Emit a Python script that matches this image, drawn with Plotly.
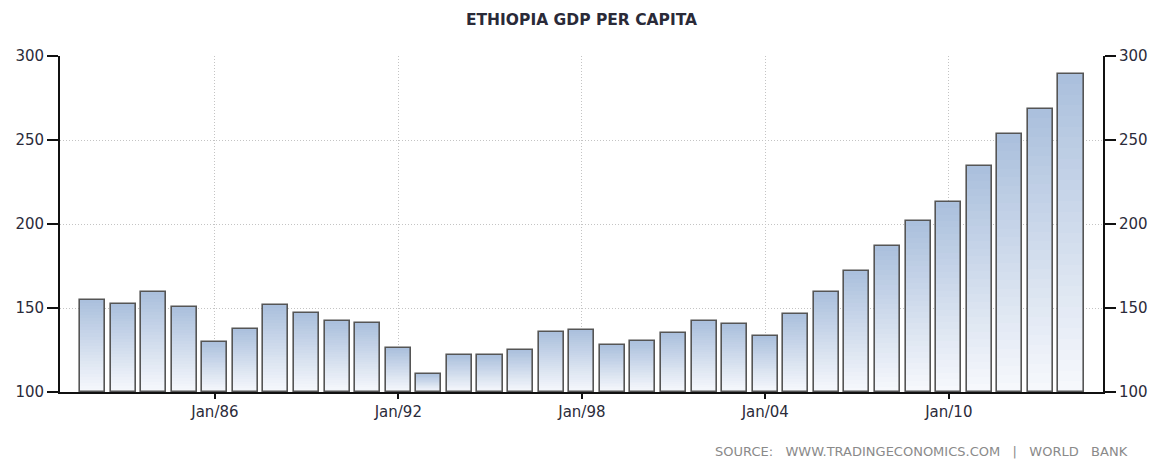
import plotly.graph_objects as go

years = list(range(1981, 2014))
gdp_per_capita = [155, 152.5, 159.5, 150.5, 130, 137.5, 151.5, 147, 142, 141,
                  126, 111, 122, 122, 125, 136, 137, 128, 130.5, 135,
                  142, 140.5, 133.5, 146.5, 159.5, 172, 187, 202, 213, 234.5,
                  253.5, 268.5, 289.5]
tick_dates = ["1986-01-01", "1992-01-01", "1998-01-01", "2004-01-01", "2010-01-01"]
tick_labels = ["Jan/86", "Jan/92", "Jan/98", "Jan/04", "Jan/10"]
y_ticks = [100, 150, 200, 250, 300]

x = [f"{y}-12-31" for y in years]
base_val = 100
bar_w = 0.82 * 365.25 * 86400000

top_rgb = (171, 192, 221)
bot_rgb = (246, 248, 252)
steps = 30

fig = go.Figure()
for k in range(steps):
    f = 1 - k / steps
    t = k / (steps - 1)
    c = tuple(round(top_rgb[i] + (bot_rgb[i] - top_rgb[i]) * t) for i in range(3))
    fig.add_trace(go.Bar(
        x=x, y=[(v - base_val) * f for v in gdp_per_capita], base=base_val,
        width=bar_w, marker=dict(color=f"rgb{c}", line=dict(width=0)),
        showlegend=False, hoverinfo="skip"))
fig.add_trace(go.Bar(
    x=x, y=[v - base_val for v in gdp_per_capita], base=base_val,
    width=bar_w, yaxis="y2",
    marker=dict(color="rgba(0,0,0,0)", line=dict(color="#555555", width=1.6)),
    showlegend=False, name="GDP per capita"))

tick_font = dict(family="DejaVu Sans", size=15, color="#2b2b3a")
grid = dict(showgrid=True, gridcolor="#c4c4c4", griddash="1px,2px", gridwidth=1)
fig.update_layout(
    width=1148, height=451,
    margin=dict(l=52, r=53, t=48, b=67, autoexpand=False),
    paper_bgcolor="white", plot_bgcolor="white",
    barmode="overlay", bargap=0,
    title=dict(text="<b>ETHIOPIA GDP PER CAPITA</b>", x=0.5, xanchor="center",
               y=1 - 12 / 451, yanchor="middle", xref="paper",
               font=dict(family="DejaVu Sans", size=15.5, color="#2a2a38")),
    xaxis=dict(type="date", range=["1980-12-08", "2015-01-17"],
               tickvals=tick_dates, ticktext=tick_labels, automargin=False,
               ticks="outside", ticklen=5, tickcolor="#111", tickwidth=1.5,
               showline=True, linecolor="#111", linewidth=1.5,
               tickfont=tick_font, zeroline=False, **grid),
    yaxis=dict(range=[100, 300], tickvals=y_ticks, side="left", automargin=False,
               ticks="outside", ticklen=11, tickcolor="#111", tickwidth=1.5,
               showline=True, linecolor="#111", linewidth=1.8,
               tickfont=tick_font, zeroline=False, **grid),
    yaxis2=dict(range=[100, 300], tickvals=y_ticks, side="right", overlaying="y",
                automargin=False,
                ticks="outside", ticklen=11, tickcolor="#111", tickwidth=1.5,
                showline=True, linecolor="#111", linewidth=1.8,
                showgrid=False, tickfont=tick_font, zeroline=False),
    annotations=[dict(
        text="SOURCE:&nbsp;&nbsp; WWW.TRADINGECONOMICS.COM &nbsp;&nbsp;|&nbsp;&nbsp; WORLD&nbsp;&nbsp; BANK",
        xref="paper", yref="paper", x=(1130 - 60) / (1103 - 60), y=-(451 - 392) / 336,
        xanchor="right", yanchor="middle",
        showarrow=False, font=dict(family="DejaVu Sans", size=13, color="#8a8a8a"))],
)

fig.write_html("out.html")
